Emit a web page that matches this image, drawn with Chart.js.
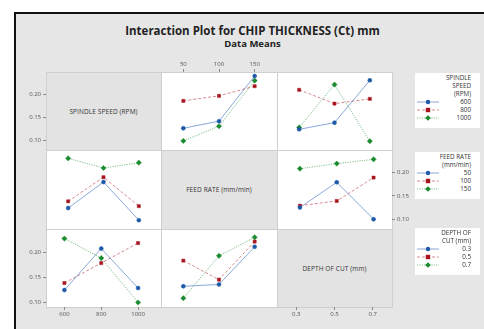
<!DOCTYPE html>
<html>
<head>
<meta charset="utf-8">
<script src="https://cdn.jsdelivr.net/npm/chart.js@4.4.0/dist/chart.umd.min.js"></script>
<style>
  html, body { margin: 0; padding: 0; background: #fff; }
  body { width: 484px; height: 329px; position: relative; overflow: hidden; font-family: "Open Sans", "DejaVu Sans", sans-serif; }
  #frame { position: absolute; left: 14px; top: 12px; width: 480px; height: 330px; background: #e6e6e6;
           border-top: 2px solid #111; border-left: 2px solid #111; }
  .abs { position: absolute; }
  #title { left: 0; width: 505px; top: 23px; text-align: center; font-size: 11.5px; font-weight: 700; color: #222; }
  #subtitle { left: 0; width: 505px; top: 37px; text-align: center; font-size: 9.5px; font-weight: 700; color: #222; }
  .panel { box-sizing: border-box; border: 1px solid #cfcfcf; }
  .diag { background: #e3e3e3; }
  .off { background: #fff; }
  .diaglabel { display: flex; align-items: center; justify-content: center; font-size: 6.5px; color: #333; letter-spacing: 0.1px; }
  canvas { position: absolute; }
  .legend { background: #fff; font-size: 6.3px; color: #333; line-height: 8px; }
  .legend .row { position: relative; text-align: right; padding-right: 9px; height: 8px; }
  .legend svg { position: absolute; left: 2px; top: 0; }
</style>
</head>
<body>
<div id="frame"></div>
<div id="title" class="abs">Interaction Plot for CHIP THICKNESS (Ct) mm</div>
<div id="subtitle" class="abs">Data Means</div>
<div id="stage"></div>
<script>
// factor levels
const speedLevels = [600, 800, 1000];
const feedLevels = [50, 100, 150];
const depthLevels = [0.3, 0.5, 0.7];
const levelLabels = [['600', '800', '1000'], ['50', '100', '150'], ['0.3', '0.5', '0.7']];
const factorNames = ['SPINDLE SPEED (RPM)', 'FEED RATE (mm/min)', 'DEPTH OF CUT (mm)'];
const legendTitles = [['SPINDLE', 'SPEED', '(RPM)'], ['FEED RATE', '(mm/min)'], ['DEPTH OF', 'CUT (mm)']];

// L9 runs (chip thickness)
const runSpeed = [600, 600, 600, 800, 800, 800, 1000, 1000, 1000];
const runFeed = [50, 100, 150, 50, 100, 150, 50, 100, 150];
const runDepth = [0.3, 0.5, 0.7, 0.5, 0.7, 0.3, 0.7, 0.3, 0.5];
const runCt = [0.125, 0.139, 0.228, 0.179, 0.189, 0.208, 0.100, 0.129, 0.219];

const yTicks = [0.10, 0.15, 0.20];
const yTickLabels = ['0.10', '0.15', '0.20'];

const levels = [speedLevels, feedLevels, depthLevels];
const runs = [runSpeed, runFeed, runDepth];

// series styles: blue solid circle, red dashed square, green dotted diamond
const styles = [
    { point: '#1f5aa8', line: 'rgba(60,110,190,0.6)', dash: [], shape: 'circle', r: 2 },
    { point: '#a8141e', line: 'rgba(190,60,70,0.6)', dash: [3, 2], shape: 'rect', r: 2.2 },
    { point: '#1b8a2e', line: 'rgba(40,150,60,0.6)', dash: [1.2, 1.2], shape: 'rectRot', r: 2.6 }
];

const X0 = 46, Y0 = 72, PW = 115.3, PH = 78.3;
const YAX = 30, XAX = 15;

function cellMean(rf, ri, cf, cj) {
    let s = 0, n = 0;
    for (let k = 0; k < runCt.length; k++) {
        if (runs[rf][k] === levels[rf][ri] && runs[cf][k] === levels[cf][cj]) { s += runCt[k]; n++; }
    }
    return n ? s / n : null;
}

const stage = document.getElementById('stage');

function addDiv(cls, x, y, w, h, html) {
    const d = document.createElement('div');
    d.className = 'abs ' + cls;
    d.style.left = x + 'px'; d.style.top = y + 'px';
    d.style.width = w + 'px'; d.style.height = h + 'px';
    if (html) d.innerHTML = html;
    stage.appendChild(d);
    return d;
}

// panel backgrounds
for (let r = 0; r < 3; r++) {
    for (let c = 0; c < 3; c++) {
        const x = Math.round(X0 + c * PW), y = Math.round(Y0 + r * PH);
        const w = Math.round(X0 + (c + 1) * PW) - x, h = Math.round(Y0 + (r + 1) * PH) - y;
        if (r === c) {
            addDiv('panel diag', x, y, w + 1, h + 1);
            addDiv('diaglabel', x, y, w, h, factorNames[r]);
        } else {
            addDiv('panel off', x, y, w + 1, h + 1);
        }
    }
}

// which panel carries which axis
function yAxisPos(r, c) {
    if ((r === 0 || r === 2) && c === 0) return 'left';
    if (r === 1 && c === 2) return 'right';
    return null;
}
function xAxisPos(r, c) {
    if (c === 1 && r === 0) return 'top';
    if ((c === 0 || c === 2) && r === 2) return 'bottom';
    return null;
}

for (let r = 0; r < 3; r++) {
    for (let c = 0; c < 3; c++) {
        const yPos = yAxisPos(r, c), xPos = xAxisPos(r, c);
        const px = Math.round(X0 + c * PW), py = Math.round(Y0 + r * PH);
        const pw = Math.round(X0 + (c + 1) * PW) - px, ph = Math.round(Y0 + (r + 1) * PH) - py;
        const left = px - (yPos === 'left' ? YAX : 0);
        const top = py - (xPos === 'top' ? XAX : 0);
        const w = pw + (yPos ? YAX : 0);
        const h = ph + (xPos ? XAX : 0);
        const cv = document.createElement('canvas');
        cv.width = w; cv.height = h;
        cv.style.left = left + 'px'; cv.style.top = top + 'px';
        cv.style.width = w + 'px'; cv.style.height = h + 'px';
        stage.appendChild(cv);

        const datasets = [];
        if (r !== c) {
            for (let i = 0; i < 3; i++) {
                const st = styles[i];
                datasets.push({
                    data: [0, 1, 2].map(j => cellMean(r, i, c, j)),
                    borderColor: st.line,
                    borderWidth: 1,
                    borderDash: st.dash,
                    pointStyle: st.shape,
                    pointRadius: st.r,
                    pointBackgroundColor: st.point,
                    pointBorderColor: st.point,
                    pointBorderWidth: 0.5,
                    tension: 0,
                    clip: false
                });
            }
        }

        new Chart(cv.getContext('2d'), {
            type: 'line',
            data: { labels: levelLabels[c], datasets: datasets },
            options: {
                responsive: false,
                animation: false,
                events: [],
                layout: { padding: 0 },
                plugins: { legend: { display: false }, tooltip: { enabled: false } },
                scales: {
                    x: {
                        type: 'category',
                        offset: true,
                        display: !!xPos,
                        position: xPos || 'bottom',
                        grid: { display: true, drawOnChartArea: false, tickLength: 3, color: '#8a8a8a' },
                        border: { display: false },
                        ticks: { font: { size: 6, family: 'Open Sans' }, color: '#555', padding: 1, maxRotation: 0, autoSkip: false },
                        afterFit: s => { s.height = xPos ? XAX : 0; }
                    },
                    y: {
                        type: 'linear',
                        min: 0.091,
                        max: 0.236,
                        display: !!yPos,
                        position: yPos || 'left',
                        grid: { display: true, drawOnChartArea: false, tickLength: 3, color: '#8a8a8a' },
                        border: { display: false },
                        afterBuildTicks: s => { s.ticks = yTicks.map(v => ({ value: v })); },
                        ticks: {
                            font: { size: 6, family: 'Open Sans' }, color: '#555', padding: 2,
                            callback: (v, i) => yTickLabels[i]
                        },
                        afterFit: s => { s.width = yPos ? YAX : 0; }
                    }
                }
            }
        });
    }
}

// legends
function sample(i) {
    const st = styles[i];
    let shape;
    if (st.shape === 'circle') shape = `<circle cx="11" cy="4" r="2.2" fill="${st.point}"/>`;
    else if (st.shape === 'rect') shape = `<rect x="8.8" y="1.8" width="4.4" height="4.4" fill="${st.point}"/>`;
    else shape = `<polygon points="11,1.2 13.8,4 11,6.8 8.2,4" fill="${st.point}"/>`;
    return `<svg width="22" height="8"><line x1="0" y1="4" x2="22" y2="4" stroke="${st.line}" stroke-width="1" stroke-dasharray="${st.dash.join(' ')}"/>${shape}</svg>`;
}
const legendTops = [73, 152, 228];
for (let r = 0; r < 3; r++) {
    let html = '<div style="padding-top:1px">';
    legendTitles[r].forEach(t => { html += `<div class="row">${t}</div>`; });
    levelLabels[r].forEach((t, i) => { html += `<div class="row">${sample(i)}${t}</div>`; });
    html += '</div>';
    const h = (legendTitles[r].length + 3) * 8 + 7;
    addDiv('legend', 415, legendTops[r], 65, h, html);
}
</script>
</body>
</html>
